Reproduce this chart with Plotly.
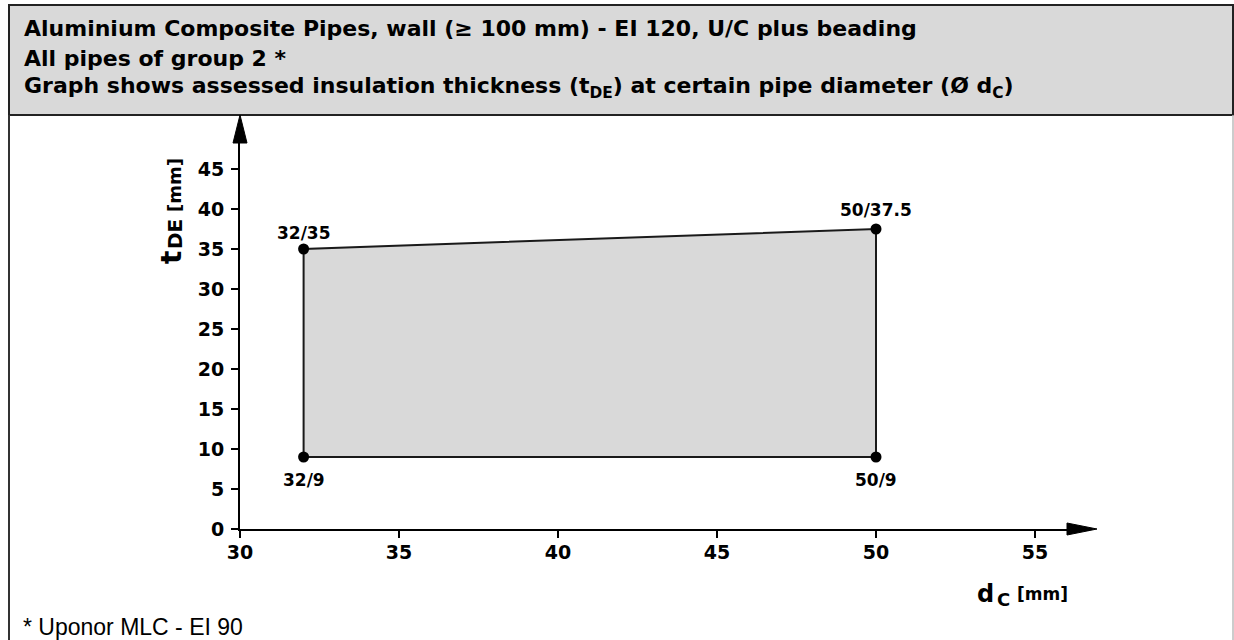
import plotly.graph_objects as go

# ---- data ----
dc = [32, 50, 50, 32]          # pipe diameter d_C [mm]
tde = [9, 9, 37.5, 35]         # insulation thickness t_DE [mm]
x_ticks = [30, 35, 40, 45, 50, 55]
y_ticks = [0, 5, 10, 15, 20, 25, 30, 35, 40, 45]
header_lines = [
    "Aluminium Composite Pipes, wall (≥ 100 mm) - EI 120, U/C plus beading",
    "All pipes of group 2 *",
    "Graph shows assessed insulation thickness (t<sub>DE</sub>) at certain pipe diameter (Ø d<sub>C</sub>)",
]
footnote = "* Uponor MLC - EI 90"

W, H = 1234, 640
FONT = "DejaVu Sans, Verdana, sans-serif"
FONT_R = "Liberation Sans, Arial, sans-serif"


def px(x):
    return x / W


def py(y):
    return 1 - y / H


fig = go.Figure()

# polygon area
fig.add_trace(go.Scatter(
    x=dc + [dc[0]], y=tde + [tde[0]],
    mode="lines", fill="toself", fillcolor="#d9d9d9",
    line=dict(color="#1a1a1a", width=2),
    hoverinfo="skip", showlegend=False,
))
fig.add_trace(go.Scatter(
    x=dc, y=tde, mode="markers",
    marker=dict(color="black", size=11),
    hoverinfo="skip", showlegend=False,
))

annotations = []
# point labels
shifts = [-23, -23, 19, 16]
for xv, yv, s in zip(dc, tde, shifts):
    lab = f"{xv}/{yv:g}"
    annotations.append(dict(
        x=xv, y=yv, xref="x", yref="y", text=f"<b>{lab}</b>", showarrow=False,
        yshift=s, font=dict(family=FONT, size=17, color="black"),
    ))

# header text
for line, yc in zip(header_lines, [29, 59, 88]):
    annotations.append(dict(
        x=px(22), y=py(yc), xref="paper", yref="paper", xanchor="left", yanchor="middle",
        text=f"<b>{line}</b>", showarrow=False,
        font=dict(family=FONT, size=22, color="black"),
    ))

# footnote
annotations.append(dict(
    x=px(21), y=py(627), xref="paper", yref="paper", xanchor="left", yanchor="middle",
    text=footnote, showarrow=False, font=dict(family=FONT_R, size=23, color="black"),
))


def piece(text, x, y, size, angle=0):
    return dict(x=px(x), y=py(y), xref="paper", yref="paper", xanchor="center", yanchor="middle",
                text=f"<b>{text}</b>", showarrow=False, textangle=angle,
                font=dict(family=FONT, size=size, color="black"))


# y axis title  t_DE [mm]
annotations += [
    piece("t", 171, 257, 28, -90),
    piece("DE", 175, 234, 20, -90),
    piece("[mm]", 174, 185, 18, -90),
]
# x axis title  d_C [mm]
annotations += [
    piece("d", 985, 594, 24),
    piece("C", 1003, 599, 18),
    piece("[mm]", 1042, 594, 17),
]

shapes = [
    # header box
    dict(type="rect", xref="paper", yref="paper", x0=px(9), x1=px(1233), y0=py(115), y1=py(5),
         fillcolor="#d9d9d9", line=dict(color="#222222", width=2), layer="below"),
    # left frame line
    dict(type="line", xref="paper", yref="paper", x0=px(9), x1=px(9), y0=py(115), y1=0,
         line=dict(color="#333333", width=2)),
    # right frame line
    dict(type="line", xref="paper", yref="paper", x0=px(1233), x1=px(1233), y0=py(115), y1=0,
         line=dict(color="#bbbbbb", width=1.5)),
    # y arrow head
    dict(type="path", xref="paper", yref="paper",
         path=f"M {px(240)},{py(115)} L {px(233)},{py(143)} L {px(247)},{py(143)} Z",
         fillcolor="black", line=dict(color="black", width=1)),
    # x arrow head
    dict(type="path", xref="paper", yref="paper",
         path=f"M {px(1097)},{py(529)} L {px(1067)},{py(523)} L {px(1067)},{py(535)} Z",
         fillcolor="black", line=dict(color="black", width=1)),
]

x_unit = (876 - 240) / 20.0
y_unit = (529 - 169) / 45.0

tickfont = dict(family=FONT, size=19, color="black", weight="bold")

fig.update_layout(
    width=W, height=H,
    margin=dict(l=0, r=0, t=0, b=0, autoexpand=False),
    paper_bgcolor="white", plot_bgcolor="white",
    showlegend=False,
    annotations=annotations,
    shapes=shapes,
    xaxis=dict(
        domain=[px(240), px(1090)],
        range=[30, 30 + (1090 - 240) / x_unit],
        tickvals=x_ticks, ticktext=[str(v) for v in x_ticks],
        showline=True, linecolor="black", linewidth=2,
        ticks="outside", ticklen=7, tickwidth=1.5, tickcolor="black",
        showgrid=False, zeroline=False, automargin=False,
        ticklabelstandoff=-2,
        tickfont=tickfont, fixedrange=True,
    ),
    yaxis=dict(
        domain=[py(529), py(130)],
        range=[0, (529 - 130) / y_unit],
        tickvals=y_ticks, ticktext=[str(v) for v in y_ticks],
        showline=True, linecolor="black", linewidth=2,
        ticks="outside", ticklen=7, tickwidth=1.5, tickcolor="black",
        showgrid=False, zeroline=False, automargin=False,
        ticklabelstandoff=3,
        tickfont=tickfont, fixedrange=True,
    ),
)

fig.write_html(
    "out.html",
    config={"displayModeBar": False},
    post_script="document.body.style.margin='0';document.documentElement.style.overflow='hidden';",
)
